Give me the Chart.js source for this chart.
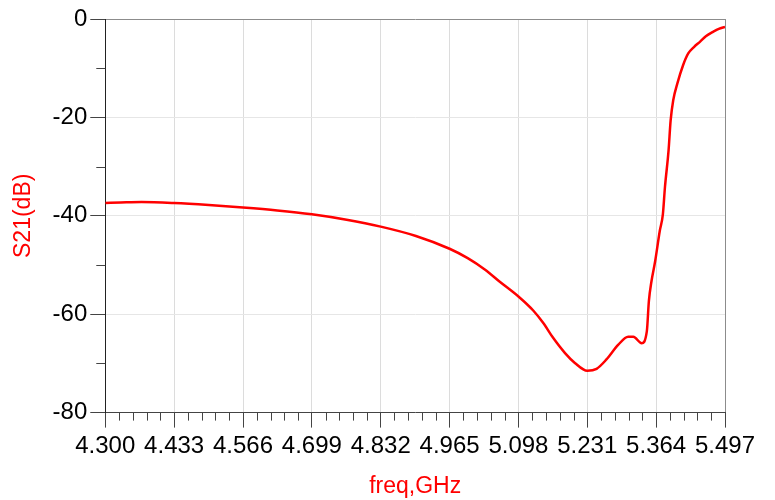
<!DOCTYPE html>
<html>
<head>
<meta charset="utf-8">
<script src="https://cdn.jsdelivr.net/npm/chart.js@4/dist/chart.umd.min.js"></script>
<style>
  html, body { margin: 0; padding: 0; background: #fff; }
  #wrap { width: 775px; height: 500px; position: relative; }
</style>
</head>
<body>
<div id="wrap"><canvas id="s21Chart"></canvas></div>
<script>
// frequency points (GHz) and S21 (dB)
const freq = [4.300, 4.330, 4.370, 4.433, 4.500, 4.566, 4.632, 4.699, 4.766, 4.832,
              4.900, 4.965, 5.000, 5.033, 5.062, 5.098, 5.127, 5.146, 5.165, 5.188,
              5.207, 5.231, 5.249, 5.268, 5.291, 5.310, 5.320, 5.336, 5.346, 5.350,
              5.355, 5.362, 5.371, 5.377, 5.381, 5.388, 5.392, 5.397, 5.405, 5.416,
              5.426, 5.437, 5.449, 5.460, 5.474, 5.485, 5.497];
const s21 = [-37.4, -37.3, -37.2, -37.4, -37.8, -38.3, -38.9, -39.7, -40.8, -42.2,
             -44.1, -46.7, -48.6, -50.9, -53.4, -56.4, -59.3, -61.8, -64.8, -67.9,
             -69.9, -71.5, -71.1, -69.2, -66.2, -64.6, -64.6, -65.9, -63.5, -57.3,
             -53.3, -49.3, -43.1, -39.7, -34.2, -26.7, -20.6, -16.5, -13.1, -9.4,
             -7.0, -5.7, -4.6, -3.5, -2.6, -2.0, -1.6];

const xTicks = [4.300, 4.433, 4.566, 4.699, 4.832, 4.965, 5.098, 5.231, 5.364, 5.497];
const yTicks = [-80, -60, -40, -20, 0];
const yMinor = [-70, -50, -30, -10];

// 4 minor ticks between each pair of x majors
const xMinor = [];
for (let i = 0; i < xTicks.length - 1; i++) {
    const step = (xTicks[i + 1] - xTicks[i]) / 5;
    for (let k = 1; k < 5; k++) xMinor.push(xTicks[i] + k * step);
}

const FONT = 'Liberation Sans, Arial, sans-serif';

const minorTicks = {
    id: 'minorTicks',
    afterDraw(chart) {
        const { ctx, scales: { x, y } } = chart;
        ctx.save();
        ctx.strokeStyle = '#444';
        ctx.lineWidth = 1;
        ctx.beginPath();
        xMinor.forEach(v => {
            const px = Math.round(x.getPixelForValue(v)) + 0.5;
            ctx.moveTo(px, y.bottom);
            ctx.lineTo(px, y.bottom + 8);
        });
        yMinor.forEach(v => {
            const py = Math.round(y.getPixelForValue(v)) + 0.5;
            ctx.moveTo(x.left, py);
            ctx.lineTo(x.left - 9, py);
        });
        ctx.stroke();
        ctx.restore();
    }
};

new Chart(document.getElementById('s21Chart'), {
    type: 'line',
    data: {
        datasets: [{
            label: 'S21(dB)',
            data: freq.map((f, i) => ({ x: f, y: s21[i] })),
            borderColor: '#ff0000',
            borderWidth: 2.5,
            pointRadius: 0,
            fill: false,
            cubicInterpolationMode: 'monotone'
        }]
    },
    options: {
        responsive: true,
        maintainAspectRatio: false,
        animation: false,
        layout: {
            padding: { left: 10, right: 50, top: 19, bottom: 0 }
        },
        plugins: {
            legend: { display: false },
            tooltip: { enabled: false }
        },
        scales: {
            x: {
                type: 'linear',
                min: 4.3,
                max: 5.497,
                afterBuildTicks: scale => {
                    scale.ticks = xTicks.map(v => ({ value: v }));
                },
                ticks: {
                    color: '#000',
                    padding: 4,
                    maxRotation: 0,
                    font: { family: FONT, size: 24 },
                    callback: value => value.toFixed(3)
                },
                grid: {
                    color: c => (c.tick && c.tick.value === 5.497) ? '#8c8c8c' : '#dcdcdc',
                    tickColor: '#444',
                    tickLength: 15
                },
                border: { color: '#444', width: 1 },
                title: {
                    display: true,
                    text: 'freq,GHz',
                    color: '#ff0000',
                    font: { family: FONT, size: 23 },
                    padding: { top: 8, bottom: 0 }
                }
            },
            y: {
                min: -80,
                max: 0,
                afterBuildTicks: scale => {
                    scale.ticks = yTicks.map(v => ({ value: v }));
                },
                ticks: {
                    color: '#000',
                    padding: 3,
                    font: { family: FONT, size: 24 }
                },
                grid: {
                    color: c => (c.tick && c.tick.value === 0) ? '#8c8c8c' : '#e6e6e6',
                    tickColor: '#444',
                    tickLength: 15
                },
                border: { color: '#222', width: 1 },
                title: {
                    display: true,
                    text: 'S21(dB)',
                    color: '#ff0000',
                    font: { family: FONT, size: 23 },
                    padding: { top: 0, bottom: 12 }
                }
            }
        }
    },
    plugins: [minorTicks]
});
</script>
</body>
</html>
